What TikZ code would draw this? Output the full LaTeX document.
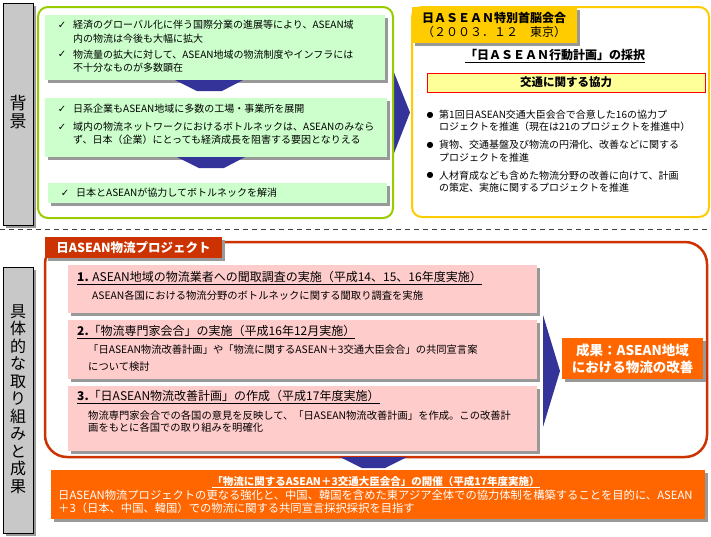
\documentclass[tikz,border=0pt]{standalone}
\usepackage{fontspec}
\setmainfont{Noto Sans CJK JP}
\newfontfamily\symf{DejaVu Sans}
\usetikzlibrary{shadows,calc}
\definecolor{grn}{HTML}{99CC00}
\definecolor{lgrn}{HTML}{CCFFCC}
\definecolor{gold}{HTML}{FFCC00}
\definecolor{lyel}{HTML}{FFFF99}
\definecolor{rbord}{HTML}{CC3300}
\definecolor{pinkf}{HTML}{FFCCCC}
\definecolor{orng}{HTML}{FF6600}
\definecolor{navy}{HTML}{333399}
\definecolor{shdc}{HTML}{999999}
\definecolor{lgray}{HTML}{C8C8C8}
\newcommand{\ck}{{\symf\fontsize{10}{10}\selectfont ✓}}
\newcommand{\bl}{{\symf\fontsize{8}{8}\selectfont ●}}
\begin{document}
\begin{tikzpicture}[x=1pt,y=-1pt,
  shd/.style={drop shadow={shadow xshift=3pt,shadow yshift=-3pt,fill=shdc,opacity=1}},
  boxn/.style={anchor=north west,inner sep=0pt,outer sep=0pt},
  txt/.style={anchor=west,inner sep=0pt,align=left,font=\fontsize{10}{13.5}\selectfont},
  ckmark/.style={anchor=center,inner sep=0pt},
  head/.style={anchor=west,inner sep=0pt,font=\fontsize{12}{13}\selectfont},
  sub/.style={anchor=west,inner sep=0pt,font=\fontsize{10.3}{17}\selectfont,align=left},
  wtxt/.style={anchor=west,inner sep=0pt,text=white,font=\fontsize{11}{13}\selectfont},
  vlabel/.style={inner sep=0pt,align=center},
  navyarrow/.style={fill=navy},
]
\useasboundingbox (0,0) rectangle (711,536);
% ---- side labels ----
\node[boxn,minimum width=30,minimum height=222,fill=lgray,draw=black,line width=0.8pt,shd] (lab1) at (3,3) {};
\node[vlabel,font=\fontsize{17}{18}\selectfont] (lab1t) at (18,112) {背\\景};
\node[boxn,minimum width=30,minimum height=266,fill=lgray,draw=black,line width=0.8pt,shd] (lab2) at (3,267) {};
\node[vlabel,font=\fontsize{16}{17.45}\selectfont] (lab2t) at (18,399) {具\\体\\的\\な\\取\\り\\組\\み\\と\\成\\果};
% ---- dashed separator ----
\coordinate (dl) at (0,229);
\coordinate (dr) at (711,229);
\draw[black!75,line width=0.9pt,dash pattern=on 5pt off 4pt] (dl) -- (dr);
% ---- top left block ----
\node[boxn,minimum width=355,minimum height=211] (go) at (38,7) {};
\fill[navyarrow] ($(go.east)+(-5,-55)$) -- ($(go.east)+(17,0)$) -- ($(go.east)+(-5,56)$) -- cycle;
\draw[grn,line width=2pt,rounded corners=10pt,fill=white] (go.north west) rectangle (go.south east);
\node[boxn,minimum width=340,minimum height=65,fill=lgrn,shd] (g1) at (45,15) {};
\node[boxn,minimum width=342,minimum height=59,fill=lgrn,shd] (g2) at (45,98) {};
\node[boxn,minimum width=339,minimum height=20,fill=lgrn,shd] (g3) at (48,183) {};
\fill[navyarrow] ($(g1.south west)+(130,0)$) -- ($(g1.south west)+(198,0)$) -- ($(g1.south west)+(177,11)$) -- ($(g1.south west)+(152,11)$) -- cycle;
\fill[navyarrow] ($(g2.south west)+(132,0)$) -- ($(g2.south west)+(200,0)$) -- ($(g2.south west)+(179,11)$) -- ($(g2.south west)+(154,11)$) -- cycle;
\node[ckmark] (c1) at (62,25) {\ck};
\node[txt] (t1) at (73,31.5) {経済のグローバル化に伴う国際分業の進展等により、ASEAN域\\内の物流は今後も大幅に拡大};
\node[ckmark] (c2) at (62,54) {\ck};
\node[txt] (t2) at (73,61) {物流量の拡大に対して、ASEAN地域の物流制度やインフラには\\不十分なものが多数顕在};
\node[ckmark] (c3) at (62,109) {\ck};
\node[txt] (t3) at (73,109) {日系企業もASEAN地域に多数の工場・事業所を展開};
\node[ckmark] (c4) at (62,127) {\ck};
\node[txt] (t4) at (73,133.5) {域内の物流ネットワークにおけるボトルネックは、ASEANのみなら\\ず、日本（企業）にとっても経済成長を阻害する要因となりえる};
\node[ckmark] (c5) at (65,193) {\ck};
\node[txt] (t5) at (76,193) {日本とASEANが協力してボトルネックを解消};
% ---- top right block ----
\node[boxn,minimum width=297,minimum height=210,draw=gold,line width=2pt,rounded corners=10pt,fill=white] (yo) at (412,7) {};
\node[boxn,minimum width=165,minimum height=36,fill=gold,shd] (yt) at (412,7) {};
\node[anchor=west,inner sep=0pt,font=\fontsize{12}{14}\selectfont\bfseries] (yt1) at (422,18) {日ＡＳＥＡＮ特別首脳会合};
\node[anchor=west,inner sep=0pt,font=\fontsize{12}{14}\selectfont] (yt2) at (422,32) {（２００３．１２　東京）};
\node[inner sep=0pt,font=\fontsize{12}{14}\selectfont\bfseries] (yh) at (555,56) {\underline{「日ＡＳＥＡＮ行動計画」の採択}};
\node[boxn,minimum width=278,minimum height=19,fill=lyel,draw=red,line width=1pt] (yb) at (427,73) {};
\node[inner sep=0pt,font=\fontsize{11.5}{13}\selectfont\bfseries] (ybt) at (yb.center) {交通に関する協力};
\node[ckmark] (b1) at (430,115) {\bl};
\node[txt,font=\fontsize{10}{12.5}\selectfont] (u1) at (439,121) {第1回日ASEAN交通大臣会合で合意した16の協力プ\\ロジェクトを推進（現在は21のプロジェクトを推進中）};
\node[ckmark] (b2) at (430,145) {\bl};
\node[txt,font=\fontsize{10}{12.5}\selectfont] (u2) at (439,151) {貨物、交通基盤及び物流の円滑化、改善などに関する\\プロジェクトを推進};
\node[ckmark] (b3) at (430,175) {\bl};
\node[txt,font=\fontsize{10}{12.5}\selectfont] (u3) at (439,181.5) {人材育成なども含めた物流分野の改善に向けて、計画\\の策定、実施に関するプロジェクトを推進};
% ---- project block ----
\node[boxn,minimum width=662,minimum height=215,draw=rbord,line width=2.5pt,rounded corners=22pt,fill=white] (ro) at (45,242) {};
\node[boxn,minimum width=177,minimum height=21,fill=rbord,shd] (rt) at (45,237) {};
\node[inner sep=0pt,text=white,font=\fontsize{12.5}{14}\selectfont\bfseries] (rtt) at (rt.center) {日ASEAN物流プロジェクト};
\node[boxn,minimum width=469,minimum height=48,fill=pinkf,shd] (p1) at (68,265) {};
\node[boxn,minimum width=469,minimum height=59,fill=pinkf,shd] (p2) at (68,320) {};
\node[boxn,minimum width=469,minimum height=65,fill=pinkf,shd] (p3) at (68,386) {};
\node[head] (h1) at (77,278) {\underline{\textbf{1.} ASEAN地域の物流業者への聞取調査の実施（平成14、15、16年度実施）}};
\node[sub] (s1) at (92,296) {ASEAN各国における物流分野のボトルネックに関する聞取り調査を実施};
\node[head] (h2) at (77,332) {\underline{\textbf{2.}「物流専門家会合」の実施（平成16年12月実施）}};
\node[sub] (s2) at (88,358.5) {「日ASEAN物流改善計画」や「物流に関するASEAN＋3交通大臣会合」の共同宣言案\\について検討};
\node[head] (h3) at (77,397) {\underline{\textbf{3.}「日ASEAN物流改善計画」の作成（平成17年度実施）}};
\node[sub,font=\fontsize{10.3}{12.5}\selectfont] (s3) at (88,421.5) {物流専門家会合での各国の意見を反映して、「日ASEAN物流改善計画」を作成。この改善計\\画をもとに各国での取り組みを明確化};
\node[boxn,minimum width=141,minimum height=41,fill=orng,shd] (res) at (562,338) {};
\fill[navyarrow] ($(res.west)+(-19,-43.5)$) -- ($(res.west)+(-2,12.5)$) -- ($(res.west)+(-19,68.5)$) -- cycle;
\node[inner sep=0pt,text=white,align=center,font=\fontsize{13.5}{17}\selectfont\bfseries] (rest) at (res.center) {成果：ASEAN地域\\における物流の改善};
% ---- bottom block ----
\node[boxn,minimum width=654,minimum height=49,fill=orng,shd] (bot) at (51,470) {};
\fill[navyarrow] ($(bot.north west)+(289,-13)$) -- ($(bot.north west)+(356,-13)$) -- ($(bot.north west)+(334,-2)$) -- ($(bot.north west)+(311,-2)$) -- cycle;
\node[inner sep=0pt,text=white,font=\fontsize{10.5}{13}\selectfont\bfseries] (bh) at (376,482) {\underline{「物流に関するASEAN＋3交通大臣会合」の開催（平成17年度実施）}};
\node[wtxt,align=left,font=\fontsize{11.3}{13}\selectfont] (bt) at (58,501.5) {日ASEAN物流プロジェクトの更なる強化と、中国、韓国を含めた東アジア全体での協力体制を構築することを目的に、ASEAN\\＋3（日本、中国、韓国）での物流に関する共同宣言採択採択を目指す};
\end{tikzpicture}
\end{document}
